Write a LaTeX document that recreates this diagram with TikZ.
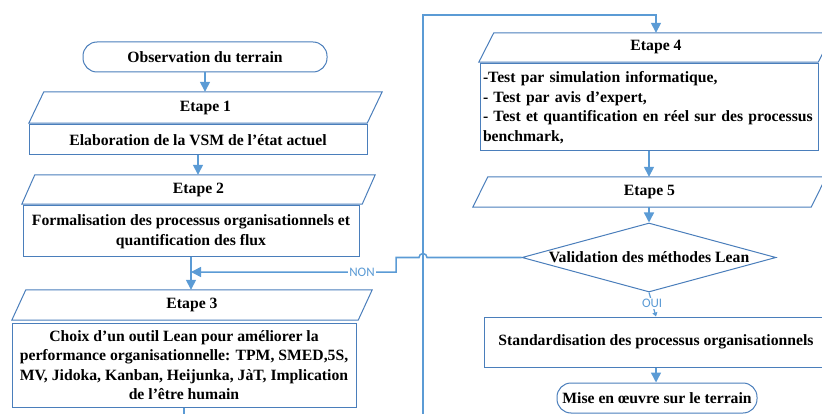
\documentclass[tikz,border=0pt]{standalone}
\usepackage{fontspec}
\setmainfont{Liberation Serif}
\newfontfamily\lblfont{Carlito}
\usetikzlibrary{arrows.meta,shapes.geometric,calc}
\definecolor{connc}{HTML}{5B9BD5}
\definecolor{edgec}{HTML}{4A7EBB}
\newcommand\drawpara[2]{\draw[paraedge] ($(#1.north west)+(#2,0)$) -- (#1.north east) -- ($(#1.south east)+(-#2,0)$) -- (#1.south west) -- cycle;}
\begin{document}
\begin{tikzpicture}[x=1pt,y=-1pt,
  txt/.style={font=\fontsize{15.7}{19.5}\selectfont\bfseries, text=black, inner sep=0pt, align=center},
  boxnode/.style={txt, draw=edgec, line width=1pt, fill=white, rectangle},
  termnode/.style={boxnode, rounded corners=14pt},
  paranode/.style={txt},
  paraedge/.style={draw=edgec, line width=1pt, line join=miter},
  conn/.style={draw=connc, line width=1.5pt, -{Triangle[width=10pt,length=10pt]}},
  lbl/.style={font=\lblfont\fontsize{13}{14}\selectfont, text=connc, fill=white, inner sep=1pt}
]
\useasboundingbox (0,0) rectangle (822,414);
\clip (0,0) rectangle (822,414);

% left column
\node[termnode, minimum width=244pt, minimum height=30pt] (obs) at (205,57) {Observation du terrain};
\node[paranode, minimum width=353pt, minimum height=31pt] (e1) at (205.5,107.5) {Etape 1};
\drawpara{e1}{15}
\node[boxnode, minimum width=338pt, minimum height=30pt] (elab) at (198,140) {Elaboration de la VSM de l’état actuel};
\node[paranode, minimum width=353pt, minimum height=29pt] (e2) at (198.5,189.5) {Etape 2};
\drawpara{e2}{13}
\node[boxnode, minimum width=336pt, minimum height=51pt] (form) at (191,231.5) {Formalisation des processus organisationnels et\\quantification des flux};
\node[paranode, minimum width=360pt, minimum height=30pt] (e3) at (192,305) {Etape 3};
\drawpara{e3}{14}
\node[boxnode, minimum width=344pt, minimum height=84pt] (choix) at (184,365) {Choix d’un outil Lean pour améliorer la\\performance organisationnelle: TPM, SMED,5S,\\MV, Jidoka, Kanban, Heijunka, JàT, Implication\\de l’être humain};

% right column
\node[paranode, minimum width=354pt, minimum height=29pt] (e4) at (656,47.5) {Etape 4};
\drawpara{e4}{15}
\node[boxnode, align=left, text width=332pt, inner xsep=3pt, minimum height=87pt] (test) at (649,107.5) {-Test par simulation informatique,\\- Test par avis d’expert,\\- Test et quantification en réel sur des processus\\benchmark,};
\node[paranode, minimum width=353pt, minimum height=30pt] (e5) at (649.5,192) {Etape 5};
\drawpara{e5}{15}
\node[diamond, draw=edgec, line width=1pt, fill=white, inner sep=0pt, minimum width=254pt, minimum height=69pt] (dia) at (649,257.5) {};
\node[txt] (diat) at (dia.center) {Validation des méthodes Lean};
\node[boxnode, minimum width=344pt, minimum height=50pt] (std) at (656,342) {Standardisation des processus organisationnels};
\node[termnode, minimum width=200pt, minimum height=30pt] (mise) at (657,398) {Mise en œuvre sur le terrain};

% coordinates
\coordinate (loopc) at (423,15);
\coordinate (hop) at (427,257.5);
\coordinate (step) at (396,257.5);
\coordinate (join) at (191,272);

% connectors
\draw[conn] (obs.south) -- (obs.south |- e1.north);
\draw[conn] (elab.south) -- (elab.south |- e2.north);
\draw[conn] (form.south) -- (form.south |- e3.north);
\draw[conn] (choix.south) -- ++(0,40) -| (loopc) -| (e4.north);
\draw[conn] (test.south) -- (test.south |- e5.north);
\draw[conn] (dia.north |- e5.south) -- (dia.north);
\draw[conn] (dia.west) -- (hop) arc[start angle=0,end angle=-180,radius=4] -- (step) -- (step |- join) -- node[lbl, pos=0.166]{NON} (join);
\draw[draw=connc, line width=1.2pt, -{Triangle[width=5pt,length=4pt]}] (dia.south) -- node[lbl, pos=0.45]{OUI} (std.north);
\draw[conn] (std.south) -- (std.south |- mise.north);
\end{tikzpicture}
\end{document}
